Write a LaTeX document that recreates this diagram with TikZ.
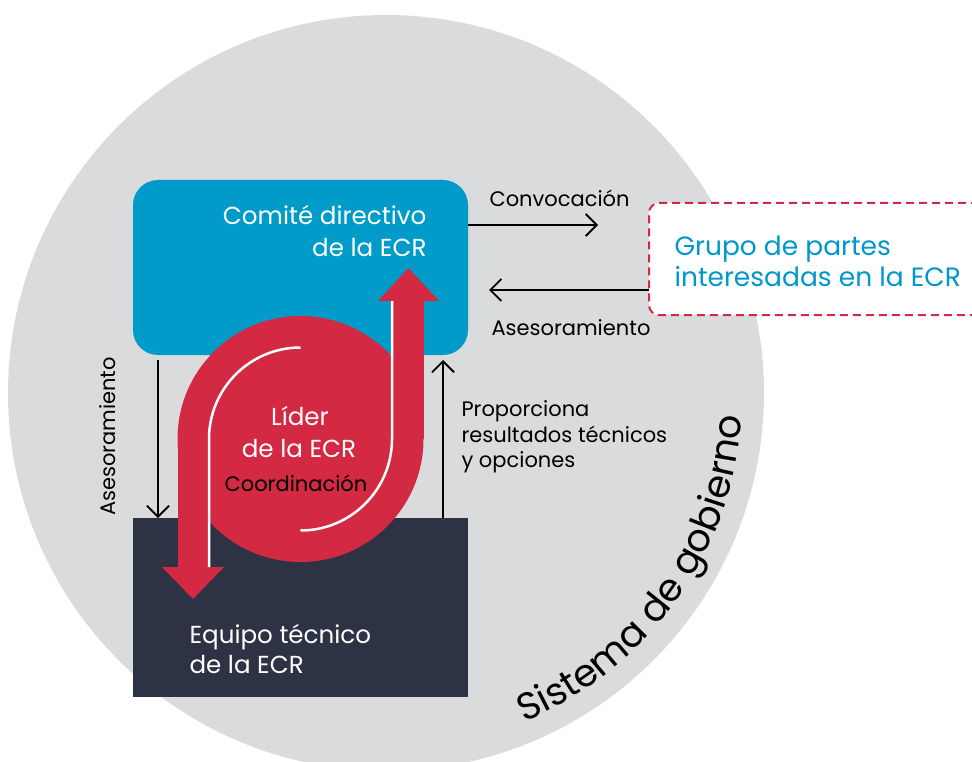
\documentclass[tikz,border=0pt]{standalone}
\usepackage{fontspec}
\setmainfont{Poppins}
\usetikzlibrary{arrows.meta,decorations.text}
\definecolor{bgray}{RGB}{218,219,221}
\definecolor{cblue}{RGB}{0,155,200}
\definecolor{cdark}{RGB}{46,50,69}
\definecolor{cred}{RGB}{212,41,66}
\definecolor{tblue}{RGB}{0,152,204}
\begin{document}
\begin{tikzpicture}[x=1pt,y=1pt,
  box/.style={inner sep=0pt, outer sep=0pt},
  big/.style={font=\fontsize{24.6}{24.6}\selectfont},
  grp/.style={font=\fontsize{26.5}{26.5}\selectfont, text=tblue},
  small/.style={font=\fontsize{21}{21}\selectfont, text=black},
  arr/.style={draw=black, line width=1.8pt, -{Straight Barb[length=11pt,width=22pt,line width=1.8pt]}},
  wline/.style={draw=white, line width=2.5pt}]
\useasboundingbox (0,0) rectangle (972,-762);
\clip (0,0) rectangle (972,-762);
% governance system circle
\fill[bgray] (386,-393) circle[radius=378pt];
% boxes
\node[box, fill=cblue, rounded corners=25pt, minimum width=335pt, minimum height=175pt] (comite) at (300.5,-267.5) {};
\node[box, fill=cdark, minimum width=335pt, minimum height=179pt] (equipo) at (300.5,-607.5) {};
\node[box, anchor=north west, fill=white, draw=cred, dash pattern=on 8pt off 5pt, line width=2pt, rounded corners=10pt, minimum width=340pt, minimum height=112pt] (grupo) at (649,-203) {};
% red leader shape
\fill[cred] (300.5,-439) circle[radius=123pt];
\fill[cred] (392,-301) rectangle (423.5,-439);
\fill[cred] (378,-301) -- (439,-301) -- (408.5,-268) -- cycle;
\fill[cred] (177.5,-439) rectangle (209,-567);
\fill[cred] (162,-567) -- (224,-567) -- (193,-599) -- cycle;
\draw[wline] (300.5,-347.5) arc[start angle=90, end angle=180, radius=91.5pt] -- (209,-567);
\draw[wline] (392,-301) -- (392,-439) arc[start angle=0, end angle=-90, radius=91.5pt];
% texts
\node[big, text=white, anchor=base east] (cd1) at (430,-225) {Comité directivo};
\node[big, text=white, anchor=base east] (cd2) at (430,-257) {de la ECR};
\node[big, text=white, anchor=base] (ld1) at (300,-425) {Líder};
\node[big, text=white, anchor=base] (ld2) at (299,-457) {de la ECR};
\node[small, anchor=base] (coord) at (296,-491) {Coordinación};
\node[big, text=white, anchor=base west] (eq1) at (186,-643) {Equipo técnico};
\node[big, text=white, anchor=base west] (eq2) at (186,-673) {de la ECR};
\node[grp, anchor=base west] (gp1) at (671,-255) {Grupo de partes};
\node[grp, anchor=base west] (gp2) at (671,-287) {interesadas en la ECR};
\node[small, anchor=base west] (conv) at (486,-207) {Convocación};
\node[small, anchor=base west] (ase2) at (488,-335) {Asesoramiento};
\node[small, anchor=base west] (pr1) at (458,-416) {Proporciona};
\node[small, anchor=base west] (pr2) at (458,-442) {resultados técnicos};
\node[small, anchor=base west] (pr3) at (458,-467) {y opciones};
\node[small, anchor=base, rotate=90] (ase1) at (115,-436.5) {Asesoramiento};
% connectors
\coordinate (convEnd) at (598,-225);
\draw[arr] (comite.east |- convEnd) -- (convEnd);
\coordinate (aseEnd) at (489,-290);
\draw[arr] (grupo.west |- aseEnd) -- (aseEnd);
\coordinate (lstart) at (158,-360);
\draw[arr] (lstart) -- (lstart |- equipo.north);
\coordinate (rend) at (443,-360);
\draw[arr] (rend |- equipo.north) -- (rend);
% curved label
\path[decorate, decoration={text along path, text={|\fontsize{38}{38}\selectfont|Sistema de gobierno}, text align=center}]
  (386,-393) ++(-68:357pt) arc[start angle=-68, end angle=-3, radius=357pt];
\end{tikzpicture}
\end{document}
